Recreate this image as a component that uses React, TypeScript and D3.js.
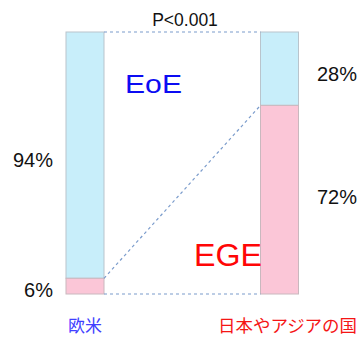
import React from 'react';
import * as d3 from 'd3';

const categories = ['欧米', '日本やアジアの国'];
const eoeValues = [94, 28];
const egeValues = [6, 72];
const pValueLabel = 'P<0.001';

const W = 363;
const H = 337;

const App: React.FC = () => {
  const x = d3.scalePoint<string>().domain(categories).range([85, 279.5]);
  const y = d3.scaleLinear().domain([0, 100]).range([294, 32]);
  const barW = 38;

  const font = 'Arial, "Liberation Sans", sans-serif';
  const cjk = '"Noto Sans CJK JP", sans-serif';

  // stacked: EGE at bottom, EoE on top
  const stack = categories.map((c, i) => ({
    cat: c,
    ege: [0, egeValues[i]],
    eoe: [egeValues[i], egeValues[i] + eoeValues[i]],
  }));

  const left = stack[0];
  const right = stack[1];
  const lx = (x(left.cat) as number) + barW / 2;
  const rx = (x(right.cat) as number) - barW / 2;

  return (
    <svg width={W} height={H} style={{ position: 'absolute', left: 0, top: 0, background: '#fff' }}>
      {stack.map((d) => {
        const cx = x(d.cat) as number;
        return (
          <g key={d.cat}>
            <rect x={cx - barW / 2} y={y(d.eoe[1])} width={barW} height={y(d.eoe[0]) - y(d.eoe[1])}
              fill="#c8eefa" stroke="#b9c4cc" strokeWidth={1} />
            <rect x={cx - barW / 2} y={y(d.ege[1])} width={barW} height={y(d.ege[0]) - y(d.ege[1])}
              fill="#fbc6d7" stroke="#c9b8be" strokeWidth={1} />
          </g>
        );
      })}

      {/* connecting dashed lines */}
      <g stroke="#7b9ccc" strokeWidth={1.2} strokeDasharray="3,3" fill="none">
        <line x1={lx} x2={rx} y1={y(100)} y2={y(100)} />
        <line x1={lx} x2={rx} y1={y(0)} y2={y(0)} />
        <line x1={lx} x2={rx} y1={y(left.ege[1])} y2={y(right.ege[1])} />
      </g>

      <text x={185} y={26} textAnchor="middle" fontFamily={font} fontSize={17.5} fill="#111">{pValueLabel}</text>

      <text x={125} y={93} fontFamily={font} fontSize={26} fill="#0c0cf2" textLength={57} lengthAdjust="spacingAndGlyphs">EoE</text>
      <text x={194} y={266} fontFamily={font} fontSize={32} fill="#ff0606" textLength={68} lengthAdjust="spacingAndGlyphs">EGE</text>

      {/* percentage labels */}
      <text x={53} y={(y(left.eoe[0]) + y(left.eoe[1])) / 2 + 12} textAnchor="end" fontFamily={font} fontSize={20} fill="#111">{eoeValues[0]}%</text>
      <text x={53} y={(y(left.ege[0]) + y(left.ege[1])) / 2 + 11} textAnchor="end" fontFamily={font} fontSize={20} fill="#111">{egeValues[0]}%</text>
      <text x={317} y={(y(right.eoe[0]) + y(right.eoe[1])) / 2 + 12} fontFamily={font} fontSize={20} fill="#111">{eoeValues[1]}%</text>
      <text x={317} y={(y(right.ege[0]) + y(right.ege[1])) / 2 + 4} fontFamily={font} fontSize={20} fill="#111">{egeValues[1]}%</text>

      {/* category labels */}
      <text x={x(categories[0]) as number} y={332} textAnchor="middle" fontFamily={cjk} fontSize={17} fill="#4040ff">{categories[0]}</text>
      <text x={218} y={332} fontFamily={cjk} fontSize={17} fill="#f51515" textLength={139} lengthAdjust="spacingAndGlyphs">{categories[1]}</text>
    </svg>
  );
};

export default App;
